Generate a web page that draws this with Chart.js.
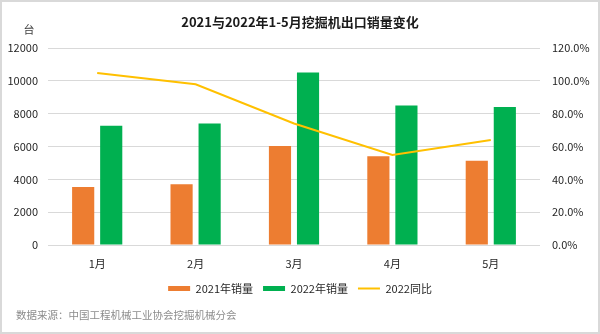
<!DOCTYPE html>
<html>
<head>
<meta charset="utf-8">
<script src="https://cdn.jsdelivr.net/npm/chart.js@4/dist/chart.umd.min.js"></script>
<style>
  html, body { margin: 0; padding: 0; background: #ffffff; }
  #wrap { width: 600px; height: 334px; position: relative; }
</style>
</head>
<body>
<div id="wrap"><canvas id="c" width="600" height="334"></canvas></div>
<script>
// Monthly excavator export volumes (units) and 2022 year-on-year growth (%)
const months = ['1月', '2月', '3月', '4月', '5月'];
const sales2021 = [3530, 3700, 6030, 5410, 5130];
const sales2022 = [7270, 7400, 10510, 8500, 8400];
const yoy2022 = [104.8, 97.9, 74.0, 54.8, 64.0];
const leftTicks = [0, 2000, 4000, 6000, 8000, 10000, 12000];
const rightTicks = [0, 20, 40, 60, 80, 100, 120];

const chartTitle = '2021与2022年1-5月挖掘机出口销量变化';
const unitLabel = '台';
const sourceNote = '数据来源：中国工程机械工业协会挖掘机械分会';

const FONT = '"Noto Sans CJK SC", "Noto Sans", sans-serif';

// Title, unit, source note and frame drawn on the canvas
const decorations = {
  id: 'decorations',
  beforeDraw(chart) {
    const ctx = chart.ctx;
    ctx.save();
    ctx.fillStyle = '#ffffff';
    ctx.fillRect(0, 0, chart.width, chart.height);
    ctx.restore();
  },
  afterDraw(chart) {
    const ctx = chart.ctx;
    ctx.save();
    ctx.textBaseline = 'middle';
    ctx.fillStyle = '#1a1a1a';
    ctx.font = 'bold 13px ' + FONT;
    ctx.textAlign = 'center';
    ctx.fillText(chartTitle, 300, 22);

    ctx.fillStyle = '#404040';
    ctx.font = '11px ' + FONT;
    ctx.fillText(unitLabel, 29, 30);

    ctx.fillStyle = '#8c8c8c';
    ctx.font = '10.5px ' + FONT;
    ctx.textAlign = 'left';
    ctx.fillText(sourceNote, 16, 315);

    ctx.strokeStyle = '#d9d9d9';
    ctx.lineWidth = 2;
    ctx.strokeRect(1, 1, chart.width - 2, chart.height - 2);
    ctx.restore();
  }
};

new Chart(document.getElementById('c'), {
  data: {
    labels: months,
    datasets: [
      {
        type: 'bar',
        label: '2021年销量',
        data: sales2021,
        backgroundColor: '#ED7D31',
        yAxisID: 'y',
        order: 1,
        categoryPercentage: 0.57,
        barPercentage: 0.79
      },
      {
        type: 'bar',
        label: '2022年销量',
        data: sales2022,
        backgroundColor: '#00B050',
        yAxisID: 'y',
        order: 1,
        categoryPercentage: 0.57,
        barPercentage: 0.79
      },
      {
        type: 'line',
        label: '2022同比',
        data: yoy2022,
        borderColor: '#FFC000',
        backgroundColor: '#FFC000',
        borderWidth: 2,
        pointRadius: 0,
        tension: 0,
        yAxisID: 'y1',
        order: 0
      }
    ]
  },
  options: {
    responsive: false,
    animation: false,
    devicePixelRatio: 1,
    layout: { padding: { left: 0, right: 0, top: 48, bottom: 30 } },
    plugins: {
      title: { display: false },
      tooltip: { enabled: false },
      legend: {
        position: 'bottom',
        labels: {
          font: { family: FONT, size: 11 },
          color: '#262626',
          usePointStyle: true,
          pointStyleWidth: 22,
          boxHeight: 5,
          padding: 10,
          sort: (a, b) => a.datasetIndex - b.datasetIndex,
          generateLabels(chart) {
            const items = Chart.defaults.plugins.legend.labels.generateLabels(chart);
            items.forEach(it => {
              const ds = chart.data.datasets[it.datasetIndex];
              if (ds.type === 'line') {
                it.pointStyle = 'line';
                it.strokeStyle = ds.borderColor;
                it.lineWidth = 2;
              } else {
                it.pointStyle = 'rect';
                it.lineWidth = 0;
                it.strokeStyle = ds.backgroundColor;
              }
            });
            return items;
          }
        }
      }
    },
    scales: {
      x: {
        grid: { display: false, drawTicks: false },
        border: { display: false },
        ticks: { font: { family: FONT, size: 11 }, color: '#262626', padding: 12 },
        afterFit(scale) { scale.height = 28; }
      },
      y: {
        position: 'left',
        min: 0,
        max: 12000,
        afterBuildTicks(scale) { scale.ticks = leftTicks.map(v => ({ value: v })); },
        grid: { color: '#d9d9d9', lineWidth: 1, drawTicks: false },
        border: { display: false },
        ticks: {
          font: { family: FONT, size: 11 },
          color: '#262626',
          padding: 10,
          callback: v => String(v)
        },
        afterFit(scale) { scale.width = 48; }
      },
      y1: {
        position: 'right',
        min: 0,
        max: 120,
        afterBuildTicks(scale) { scale.ticks = rightTicks.map(v => ({ value: v })); },
        grid: { display: false, drawTicks: false },
        border: { display: false },
        ticks: {
          font: { family: FONT, size: 11 },
          color: '#262626',
          padding: 12,
          callback: v => v.toFixed(1) + '%'
        },
        afterFit(scale) { scale.width = 60; }
      }
    }
  },
  plugins: [decorations]
});
</script>
</body>
</html>
